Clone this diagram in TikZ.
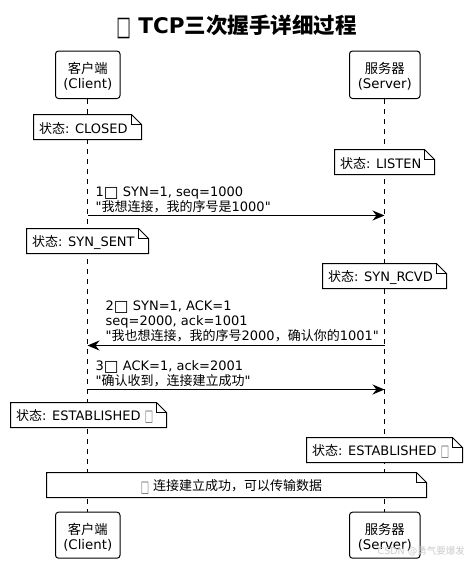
\documentclass[tikz,border=0pt]{standalone}
\usepackage{fontspec}
\setmainfont{DejaVu Sans}[Ligatures=TeXOff]
\newfontfamily\zhfont{Noto Sans CJK SC}[Ligatures=TeXOff]
\newcommand{\zh}[1]{{\zhfont #1}}
\newcommand{\tofu}{\raisebox{-0.8pt}{\scalebox{1.2}{□}}}
\newcommand{\tofunarrow}{\textcolor{black!55}{\raisebox{-1.2pt}{\scalebox{0.68}[1.25]{□}}}}
\newcommand{\tofutitle}{\raisebox{-2pt}{\scalebox{0.72}[1.25]{□}}}
\newcommand{\topstrut}{\rule{0pt}{14.5pt}}
\usetikzlibrary{arrows.meta}
\tikzset{
  x=1pt,y=-1pt,
  txt/.style={font=\fontsize{13}{15}\selectfont,inner sep=0pt,text=black},
  actor/.style={draw=black,line width=1pt,rounded corners=3pt,fill=white,align=center,inner sep=0pt,
     font=\fontsize{13.3}{15}\selectfont},
  life/.style={draw=black,line width=1pt,dash pattern=on 5pt off 5pt},
  msg/.style={draw=black,line width=1pt,-{Stealth[length=12pt,width=10pt,inset=4pt]}},
  notefill/.style={draw=black,line width=1pt,fill=white,line join=miter},
  msgtxt/.style={txt,align=left,anchor=south west},
}
% name, x1, y1, x2, y2, text
\newcommand{\notebox}[6]{%
  \draw[notefill] (#2,#3) -- ({#4-10},#3) -- (#4,{#3+10}) -- (#4,#5) -- (#2,#5) -- cycle;
  \draw[line width=1pt] ({#4-10},#3) -- ({#4-10},{#3+10}) -- (#4,{#3+10});
  \node[txt,anchor=west] (#1) at ({#2+5.5},{(#3+#5)/2+1.5}) {#6};
}
\begin{document}
\begin{tikzpicture}
\useasboundingbox (0,0) rectangle (468,563);
\fill[white] (0,0) rectangle (468,563);
\node[font=\fontsize{21.5}{24}\selectfont\bfseries,inner sep=0pt] (title) at (236.5,27) {\tofutitle{} TCP\zh{三次握手详细过程}};
% actors
\node[actor,minimum width=64.5pt,minimum height=47.5pt] (ct) at (87.75,74.75) {\topstrut\zh{客户端}\\(Client)};
\node[actor,minimum width=70.5pt,minimum height=47.5pt] (st) at (384.75,74.75) {\topstrut\zh{服务器}\\(Server)};
\node[actor,minimum width=64.5pt,minimum height=46pt] (cb) at (87.75,535.2) {\topstrut\zh{客户端}\\(Client)};
\node[actor,minimum width=70.5pt,minimum height=46pt] (sb) at (384.75,535.2) {\topstrut\zh{服务器}\\(Server)};
% lifelines
\draw[life] (ct.south) -- (cb.north);
\draw[life] (st.south) -- (sb.north);
% notes
\notebox{n1}{33.5}{114.5}{141.5}{139.5}{\zh{状态}: CLOSED}
\notebox{n2}{334.5}{149.5}{434.5}{174.5}{\zh{状态}: LISTEN}
\notebox{n3}{26.5}{228.5}{148.5}{253.5}{\zh{状态}: SYN\_SENT}
\notebox{n4}{322.5}{263.5}{446.5}{288.5}{\zh{状态}: SYN\_RCVD}
\notebox{n5}{10.5}{402.5}{166.5}{427.5}{\zh{状态}: ESTABLISHED \tofunarrow}
\notebox{n6}{306.5}{437.5}{462.5}{462.5}{\zh{状态}: ESTABLISHED \tofunarrow}
\draw[notefill] (46.5,472.5) -- (416.5,472.5) -- (426.5,482.5) -- (426.5,497.5) -- (46.5,497.5) -- cycle;
\draw[line width=1pt] (416.5,472.5) -- (416.5,482.5) -- (426.5,482.5);
\node[txt] (n7) at (231.5,487) {\tofunarrow{} \zh{连接建立成功，可以传输数据}};
% messages
\coordinate (c1) at (87.5,215.5); \coordinate (s1) at (384.5,215.5);
\coordinate (c2) at (87.5,345.5); \coordinate (s2) at (384.5,345.5);
\coordinate (c3) at (87.5,389.5); \coordinate (s3) at (384.5,389.5);
\draw[msg] (c1) -- (s1);
\draw[msg] (s2) -- (c2);
\draw[msg] (c3) -- (s3);
\node[msgtxt] (m1) at (95.5,213) {1\tofu{} SYN=1, seq=1000\\"\zh{我想连接，我的序号是}1000"};
\node[msgtxt] (m2) at (105.5,342.5) {2\tofu{} SYN=1, ACK=1\\seq=2000, ack=1001\\"\zh{我也想连接，我的序号}2000\zh{，确认你的}1001"};
\node[msgtxt] (m3) at (95.5,387) {3\tofu{} ACK=1, ack=2001\\"\zh{确认收到，连接建立成功}"};
% watermark
\node[inner sep=0pt,anchor=east,text=black!20,font=\fontsize{9.5}{11}\selectfont] (wm) at (465,551) {CSDN @\zh{勇气要爆发}};
\end{tikzpicture}
\end{document}
